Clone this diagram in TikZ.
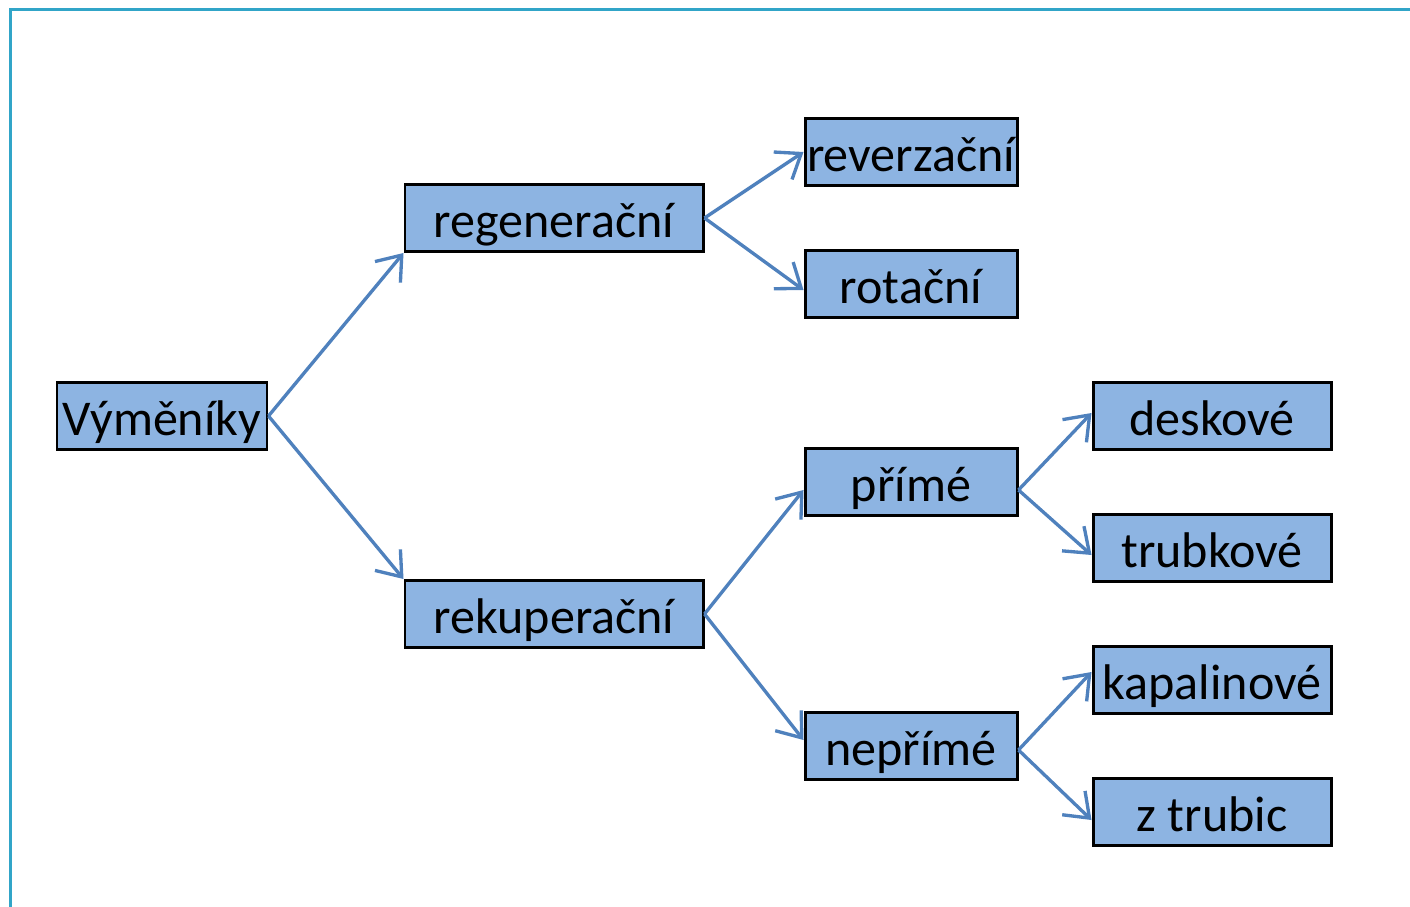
\documentclass[tikz,border=0pt]{standalone}
\usepackage{fontspec}
\setmainfont{Carlito}
\usetikzlibrary{positioning,arrows.meta}
\definecolor{boxblue}{HTML}{8DB4E2}
\definecolor{arrowblue}{HTML}{4F81BD}
\definecolor{framecyan}{HTML}{31A5C8}
\begin{document}
\begin{tikzpicture}[->,>={Straight Barb[length=0.44cm,width=0.66cm]},
		every edge/.append style={draw=arrowblue,line width=1.9pt},
		box/.style={draw=black,fill=boxblue,line width=1.7pt,minimum height=1.34cm,
			inner sep=0pt,text height=0.88cm,text depth=0.1cm,
			font=\fontsize{28.5}{34}\selectfont},
		colA/.style={box,minimum width=4.2cm},
		colB/.style={box,minimum width=5.96cm},
		colC/.style={box,minimum width=4.24cm},
		colD/.style={box,minimum width=4.76cm}
		]
		\useasboundingbox (0,0) rectangle (28.2,-18.14);
		\draw[-,framecyan,line width=1.7pt] (0.21,-18.14) |- (28.2,-0.19);
		
		\node[colA] (vym) at (3.24,-8.32) {Výměníky};
		\node[colB] (regen) [right of=vym, node distance=7.84cm, yshift=3.96cm] {regenerační};
		\node[colB] (rekup) [right of=vym, node distance=7.84cm, yshift=-3.96cm] {rekuperační};
		\node[colC] (rever) [right of=regen, node distance=7.14cm, yshift=1.32cm] {reverzační};
		\node[colC] (rotac) [right of=regen, node distance=7.14cm, yshift=-1.32cm] {rotační};
		\node[colC] (prime) [right of=rekup, node distance=7.14cm, yshift=2.64cm] {přímé};
		\node[colC] (neprime) [right of=rekup, node distance=7.14cm, yshift=-2.64cm] {nepřímé};
		\node[colD] (desk) [right of=prime, node distance=6.02cm, yshift=1.32cm] {deskové};
		\node[colD] (trub) [right of=prime, node distance=6.02cm, yshift=-1.32cm] {trubkové};
		\node[colD] (kapal) [right of=neprime, node distance=6.02cm, yshift=1.32cm] {kapalinové};
		\node[colD] (ztrub) [right of=neprime, node distance=6.02cm, yshift=-1.32cm] {z trubic};
		
		\path (vym.east) edge (regen.south west);
		\path (vym.east) edge (rekup.north west);
		\path (regen.east) edge (rever.west);
		\path (regen.east) edge ([yshift=-0.12cm]rotac.west);
		\path (rekup.east) edge ([yshift=-0.16cm]prime.west);
		\path (rekup.east) edge ([yshift=0.12cm]neprime.west);
		\path ([yshift=-0.16cm]prime.east) edge ([yshift=0.06cm]desk.west);
		\path ([yshift=-0.16cm]prime.east) edge ([yshift=-0.14cm]trub.west);
		\path ([yshift=-0.08cm]neprime.east) edge ([yshift=0.16cm]kapal.west);
		\path ([yshift=-0.08cm]neprime.east) edge ([yshift=-0.16cm]ztrub.west);
	\end{tikzpicture}
\end{document}
